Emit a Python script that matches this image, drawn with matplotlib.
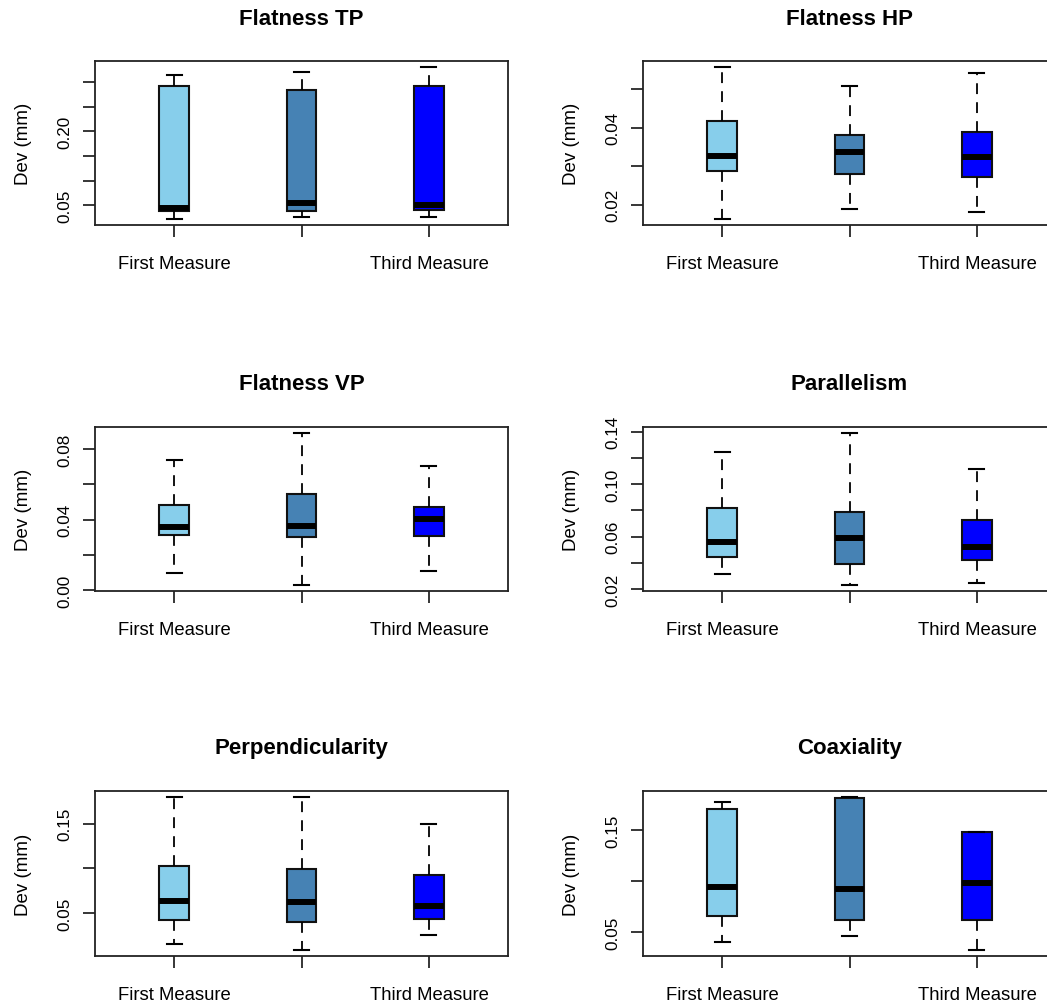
import numpy as np
import matplotlib.pyplot as plt

plt.rcParams["font.family"] = ["Liberation Sans", "DejaVu Sans"]

# %% data (whisker low, Q1, median, Q3, whisker high)
titles = ["Flatness TP", "Flatness HP", "Flatness VP",
          "Parallelism", "Perpendicularity", "Coaxiality"]
xlabels = ["First Measure", "", "Third Measure"]
box_colors = ["#87CEEB", "#4682B4", "#0000FF"]

whisk_lo = [[0.022, 0.026, 0.026],
            [0.0163, 0.0189, 0.0181],
            [0.0097, 0.0029, 0.0107],
            [0.0311, 0.0231, 0.0244],
            [0.0153, 0.0089, 0.0255],
            [0.041, 0.0464, 0.0328]]
q1 = [[0.039, 0.0385, 0.0397],
      [0.0288, 0.0281, 0.0273],
      [0.0314, 0.0299, 0.0307],
      [0.0442, 0.0388, 0.0421],
      [0.0421, 0.0398, 0.0436],
      [0.0656, 0.0617, 0.0617]]
med = [[0.045, 0.0535, 0.050],
       [0.0326, 0.0336, 0.0323],
       [0.0356, 0.0366, 0.0406],
       [0.0562, 0.0592, 0.0523],
       [0.0639, 0.0621, 0.0583],
       [0.0948, 0.0928, 0.0982]]
q3 = [[0.2916, 0.285, 0.2916],
      [0.0419, 0.0382, 0.039],
      [0.0484, 0.0543, 0.0474],
      [0.0815, 0.0788, 0.0723],
      [0.1028, 0.0998, 0.093],
      [0.1705, 0.1812, 0.1483]]
whisk_hi = [[0.314, 0.321, 0.331],
            [0.0558, 0.0508, 0.0542],
            [0.0739, 0.0891, 0.0703],
            [0.1244, 0.139, 0.1118],
            [0.1797, 0.1797, 0.150],
            [0.1779, 0.1825, 0.1483]]

yticks = [[0.05, 0.10, 0.15, 0.20, 0.25, 0.30],
          [0.02, 0.03, 0.04, 0.05],
          [0.00, 0.02, 0.04, 0.06, 0.08],
          [0.02, 0.04, 0.06, 0.08, 0.10, 0.12, 0.14],
          [0.05, 0.10, 0.15],
          [0.05, 0.10, 0.15]]
ytick_labels = [["0.05", "", "", "0.20", "", ""],
                ["0.02", "", "0.04", ""],
                ["0.00", "", "0.04", "", "0.08"],
                ["0.02", "", "0.06", "", "0.10", "", "0.14"],
                ["0.05", "", "0.15"],
                ["0.05", "", "0.15"]]

# %% layout (pixels of the 1047x1003 canvas)
W, H = 1047, 1003
col_x = [95, 643]
ax_w = 413
rows = [(62, 226), (428, 592), (792, 957)]

fig = plt.figure(figsize=(W / 100, H / 100), dpi=100)

for i, title in enumerate(titles):
    r, c = divmod(i, 2)
    top, bot = rows[r]
    ax = fig.add_axes([col_x[c] / W, 1 - bot / H, ax_w / W, (bot - top) / H])
    stats = [dict(whislo=whisk_lo[i][j], q1=q1[i][j], med=med[i][j],
                  q3=q3[i][j], whishi=whisk_hi[i][j], fliers=[])
             for j in range(3)]
    bp = ax.bxp(stats, positions=[1, 2, 3], widths=0.235, patch_artist=True,
                showfliers=False,
                boxprops=dict(edgecolor="#111111", linewidth=1.5),
                medianprops=dict(color="black", linewidth=4.3,
                                 solid_capstyle="butt"),
                whiskerprops=dict(color="black", linewidth=1.3,
                                  linestyle=(0, (6, 4.5))),
                capprops=dict(color="black", linewidth=1.5))
    for patch, col in zip(bp["boxes"], box_colors):
        patch.set_facecolor(col)

    # R-style 4% padding around the whisker range
    ax.set_xlim(0.38, 3.62)
    lo = min(whisk_lo[i]); hi = max(whisk_hi[i])
    pad = 0.04 * (hi - lo)
    ax.set_ylim(lo - pad, hi + pad)

    ax.set_xticks([1, 2, 3])
    ax.set_xticklabels(xlabels, fontsize=13.3)
    ax.set_yticks(yticks[i])
    ax.set_yticklabels(ytick_labels[i], rotation=90, va="center",
                       fontsize=12.3)
    ax.tick_params(axis="x", direction="out", length=8.5, width=1.1, pad=13)
    ax.tick_params(axis="y", direction="out", length=8.5, width=1.1, pad=8)
    for s in ax.spines.values():
        s.set_linewidth(1.3)
        s.set_color("#222222")

    ax.set_ylabel("Dev (mm)", fontsize=13.5)
    ax.yaxis.set_label_coords(-63 / ax_w, 0.5)
    ax.text(0.5, 1 + 43 / (bot - top), title, transform=ax.transAxes,
            ha="center", va="center", fontsize=16, fontweight="bold")

fig.savefig("out.png", dpi=100)
